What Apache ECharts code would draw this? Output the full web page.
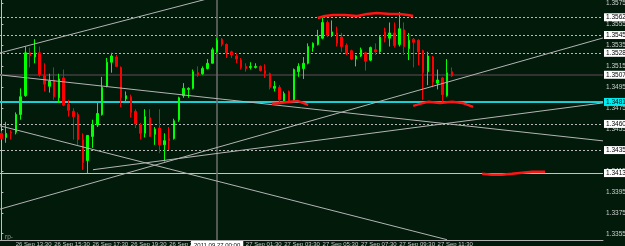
<!DOCTYPE html>
<html>
<head>
<meta charset="utf-8">
<script src="https://cdn.jsdelivr.net/npm/echarts@6/dist/echarts.min.js"></script>
<style>
  html, body { margin: 0; padding: 0; background: #011a09; }
  #chart { width: 625px; height: 246px; }
</style>
</head>
<body>
<div id="chart"></div>
<script>
// EURUSD M15, 26 Sep 12:45 .. 27 Sep 12:15
var opens  = [1.3451,1.3447,1.3452,1.3452,1.3469,1.3487,1.3528,1.3524,1.3528,1.3506,
              1.3496,1.3502,1.3485,1.3504,1.3479,1.3472,1.3469,1.3445,1.3425,1.3448,
              1.3459,1.3469,1.3496,1.3519,1.3524,1.3514,1.3484,1.3486,1.3472,1.3459,
              1.3451,1.3466,1.3450,1.3456,1.3440,1.3446,1.3446,1.3464,1.3487,1.3493,
              1.3494,1.3509,1.3508,1.3513,1.3518,1.3529,1.3541,1.3536,1.3529,1.3525,
              1.3521,1.3515,1.3514,1.3514,1.3515,1.3511,1.3508,1.3494,1.3495,1.3482,
              1.3491,1.3483,1.3510,1.3513,1.3518,1.3533,1.3536,1.3542,1.3557,1.3545,
              1.3547,1.3543,1.3535,1.3530,1.3522,1.3525,1.3528,1.3521,1.3531,1.3529,
              1.3548,1.3542,1.3547,1.3536,1.3550,1.3532,1.3541,1.3540,1.3530,1.3510,
              1.3524,1.3499,1.3504,1.3487,1.3510];
var closes = [1.3446,1.3451,1.3451,1.3469,1.3486,1.3528,1.3525,1.3528,1.3507,1.3498,
              1.3501,1.3486,1.3503,1.3478,1.3473,1.3467,1.3445,1.3423,1.3449,1.3459,
              1.3470,1.3495,1.3519,1.3525,1.3515,1.3485,1.3487,1.3471,1.3460,1.3451,
              1.3467,1.3448,1.3455,1.3440,1.3444,1.3444,1.3463,1.3485,1.3494,1.3494,
              1.3510,1.3507,1.3513,1.3518,1.3531,1.3540,1.3536,1.3528,1.3526,1.3522,
              1.3514,1.3513,1.3515,1.3515,1.3511,1.3508,1.3495,1.3496,1.3483,1.3489,
              1.3481,1.3512,1.3515,1.3518,1.3534,1.3537,1.3544,1.3557,1.3545,1.3548,
              1.3537,1.3534,1.3527,1.3522,1.3525,1.3531,1.3520,1.3533,1.3529,1.3543,
              1.3542,1.3547,1.3535,1.3551,1.3534,1.3540,1.3538,1.3529,1.3509,1.3525,
              1.3500,1.3502,1.3488,1.3509,1.3506];
var lows   = [1.3445,1.3442,1.3445,1.3450,1.3464,1.3486,1.3514,1.3518,1.3505,1.3491,
              1.3490,1.3483,1.3480,1.3477,1.3467,1.3445,1.3440,1.3416,1.3413,1.3437,
              1.3457,1.3468,1.3495,1.3509,1.3515,1.3476,1.3480,1.3466,1.3456,1.3445,
              1.3447,1.3448,1.3440,1.3432,1.3424,1.3435,1.3445,1.3462,1.3485,1.3485,
              1.3493,1.3505,1.3507,1.3512,1.3518,1.3528,1.3534,1.3523,1.3523,1.3518,
              1.3512,1.3510,1.3512,1.3513,1.3510,1.3504,1.3493,1.3491,1.3480,1.3480,
              1.3480,1.3481,1.3505,1.3503,1.3517,1.3529,1.3535,1.3541,1.3543,1.3543,
              1.3534,1.3529,1.3526,1.3521,1.3515,1.3524,1.3511,1.3520,1.3526,1.3528,
              1.3538,1.3534,1.3533,1.3534,1.3526,1.3521,1.3514,1.3516,1.3483,1.3497,
              1.3495,1.3493,1.3481,1.3486,1.3505];
var highs  = [1.3453,1.3462,1.3454,1.3471,1.3494,1.3534,1.3533,1.3541,1.3534,1.3518,
              1.3508,1.3514,1.3508,1.3512,1.3483,1.3475,1.3471,1.3451,1.3449,1.3464,
              1.3481,1.3505,1.3523,1.3528,1.3526,1.3515,1.3491,1.3488,1.3474,1.3461,
              1.3474,1.3474,1.3457,1.3474,1.3451,1.3457,1.3465,1.3486,1.3499,1.3495,
              1.3512,1.3515,1.3515,1.3522,1.3533,1.3542,1.3542,1.3537,1.3530,1.3528,
              1.3523,1.3518,1.3519,1.3518,1.3516,1.3517,1.3509,1.3501,1.3497,1.3491,
              1.3492,1.3513,1.3518,1.3524,1.3537,1.3538,1.3550,1.3562,1.3559,1.3559,
              1.3553,1.3547,1.3537,1.3531,1.3526,1.3533,1.3529,1.3534,1.3537,1.3544,
              1.3552,1.3557,1.3557,1.3567,1.3557,1.3547,1.3542,1.3541,1.3531,1.3529,
              1.3525,1.3512,1.3505,1.3522,1.3514];

// price scale ticks on the right
var priceTicks = [1.3355,1.3375,1.3395,1.3415,1.3435,1.3455,1.3475,1.3495,1.3515,1.3535,1.3555,1.3575];
// horizontal objects
var dottedLevels = [1.3562, 1.3545, 1.3528, 1.3460, 1.3435];
var darkLevel = 1.3507;
var cyanLevel = 1.3481;
var greyLevel = 1.3413;
var vlineIndex = 45;   // 2011.09.27 00:00

// trend lines: [slot, price] pairs
var trend1 = [[-0.3, 1.35279], [45.0, 1.35820]];
var trend2 = [[-0.3, 1.35069], [125.5, 1.34438]];
var trend3 = [[-0.3, 1.34582], [92.95, 1.33493]];
var trend4 = [[-0.3, 1.33785], [125.5, 1.35422]];
var trend5 = [[19.1, 1.34162], [125.5, 1.34801]];

// hand drawn red curves
var curveTopX = [66.0,67.5,69.2,71.7,74.2,76.3,78.3,81.1,83.1,84.8,85.9];
var curveTopY = [1.35613,1.35632,1.35642,1.35642,1.35632,1.35651,1.35661,1.35651,1.35651,1.35642,1.35632];
var curveMidLX = [56.4,58.1,60.2,61.7,62.9,64.0];
var curveMidLY = [1.34792,1.34801,1.34811,1.34820,1.34801,1.34782];
var curveMidRX = [85.9,87.3,89.0,91.5,94.0,96.1,97.3,98.4];
var curveMidRY = [1.34773,1.34792,1.34811,1.34801,1.34811,1.34801,1.34782,1.34763];
var curveLowX = [100.3,102.3,104.4,106.5,108.6,110.7,113.4];
var curveLowY = [1.34123,1.34114,1.34114,1.34123,1.34133,1.34142,1.34142];

var slotCount = 126;
var startTime = Date.UTC(2011, 8, 26, 12, 45);

function pad(n) { return n < 10 ? '0' + n : '' + n; }

var categories = [];
for (var i = 0; i < slotCount; i++) {
	var t = new Date(startTime + i * 15 * 60000);
	categories.push(t.getUTCDate() + ' Sep ' + pad(t.getUTCHours()) + ':' + pad(t.getUTCMinutes()));
}

var candles = [];
for (var j = 0; j < opens.length; j++) {
	candles.push([opens[j], closes[j], lows[j], highs[j]]);
}

function zip(xs, ys) {
	var out = [];
	for (var i = 0; i < xs.length; i++) out.push([xs[i], ys[i]]);
	return out;
}

// time labels every 2 hours, only where bars exist
function labelSlot(idx) { return idx < opens.length && (idx - 3) % 8 === 0; }

var boxLabel = function(bg) {
	return {
		show: true, position: 'end', distance: 1,
		formatter: function(p) { return Number(p.value).toFixed(4); },
		backgroundColor: bg, color: '#000', padding: [1, 2, 0, 2],
		fontSize: 6.5, fontFamily: 'Liberation Sans'
	};
};

var markData = [];
dottedLevels.forEach(function(v) {
	markData.push({ yAxis: v, lineStyle: { color: '#b8b8b8', type: [2, 2], width: 1 }, label: boxLabel('#ffffff') });
});
markData.push({ yAxis: darkLevel, lineStyle: { color: '#333333', type: 'solid', width: 2 }, label: boxLabel('#ffffff') });
markData.push({ yAxis: cyanLevel, lineStyle: { color: '#18cfd6', type: 'solid', width: 2 }, label: boxLabel('#00eef2') });
markData.push({ yAxis: greyLevel, lineStyle: { color: '#c4c4c4', type: 'solid', width: 1 }, label: boxLabel('#ffffff') });
markData.push({
	xAxis: vlineIndex,
	lineStyle: { color: '#6e6e6e', type: 'solid', width: 1.5 },
	label: {
		show: true, position: 'start', distance: 1,
		formatter: '2011.09.27 00:00',
		backgroundColor: '#ffffff', color: '#000', padding: [1, 3, 0, 3],
		fontSize: 6, fontFamily: 'Liberation Sans'
	}
});

function trendSeries(data, color, width) {
	return {
		type: 'line', xAxisIndex: 1, data: data, symbol: 'none', silent: true,
		lineStyle: { color: color, width: width }, z: 3
	};
}

var chart = echarts.init(document.getElementById('chart'), null, { renderer: 'canvas' });
var option = {
	backgroundColor: '#011a09',
	animation: false,
	title: {
		text: 'rp-', left: 0, top: 229,
		textStyle: { fontSize: 6.5, color: '#9a9a9a', fontWeight: 'normal', fontFamily: 'Liberation Sans' }
	},
	grid: { left: -1, right: 22, top: 0, bottom: 6, containLabel: false, outerBoundsMode: 'none' },
	xAxis: [
		{
			type: 'category', data: categories, boundaryGap: true,
			axisLine: { lineStyle: { color: '#b0b0b0', width: 1 } },
			axisTick: { interval: labelSlot, alignWithLabel: true, length: 2, lineStyle: { color: '#b0b0b0' } },
			axisLabel: {
				interval: labelSlot, align: 'left', margin: 1, color: '#c8c8c8',
				fontSize: 6, fontFamily: 'Liberation Sans', hideOverlap: false
			},
			splitLine: { show: false }
		},
		{ type: 'value', min: -0.5, max: slotCount - 0.5, show: false }
	],
	yAxis: {
		type: 'value', position: 'right', min: 1.3349, max: 1.35785, scale: true,
		axisLine: { show: true, lineStyle: { color: '#c0c0c0' } },
		axisTick: { show: true, length: 2, customValues: priceTicks, lineStyle: { color: '#c0c0c0' } },
		axisLabel: {
			customValues: priceTicks, margin: 3, color: '#d0d0d0', fontSize: 6.5,
			fontFamily: 'Liberation Sans',
			formatter: function(v) { return v.toFixed(4); }
		},
		splitLine: { show: false }
	},
	series: [
		{
			type: 'candlestick', xAxisIndex: 0, data: candles, barWidth: 2,
			itemStyle: {
				color: '#00ff00', color0: '#ff0000',
				borderColor: '#00ff00', borderColor0: '#ff0000', borderWidth: 1
			},
			markLine: { silent: true, precision: 5, symbol: ['none', 'none'], data: markData, z: 1 }
		},
		trendSeries(trend1, '#b4b4b4', 1),
		trendSeries(trend2, '#b4b4b4', 1),
		trendSeries(trend3, '#b4b4b4', 1),
		trendSeries(trend4, '#b4b4b4', 1),
		trendSeries(trend5, '#b4b4b4', 1),
		trendSeries(zip(curveTopX, curveTopY), '#ff1414', 2.5),
		trendSeries(zip(curveMidLX, curveMidLY), '#ff1414', 2.5),
		trendSeries(zip(curveMidRX, curveMidRY), '#ff1414', 2.5),
		trendSeries(zip(curveLowX, curveLowY), '#ff1414', 2.5)
	]
};
chart.setOption(option);
</script>
</body>
</html>
